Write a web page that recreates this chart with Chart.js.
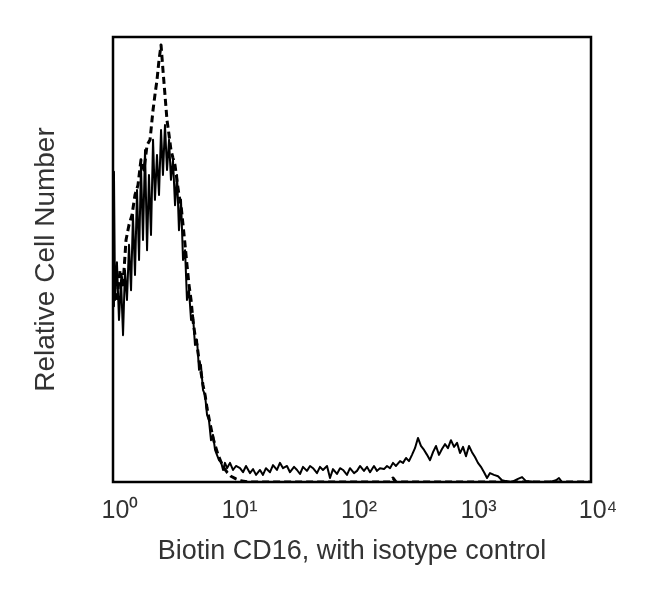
<!DOCTYPE html>
<html>
<head>
<meta charset="utf-8">
<script src="https://cdn.jsdelivr.net/npm/chart.js@4.4.1/dist/chart.umd.min.js"></script>
<style>
  html, body { margin: 0; padding: 0; background: #fff; }
  #wrap { width: 650px; height: 605px; }
</style>
</head>
<body>
<div id="wrap"><canvas id="c" width="650" height="605"></canvas></div>
<script>
// x values are log10 of fluorescence intensity (axis spans 10^0 .. 10^4)
const tickLabels = ['10\u2070', '10\u00B9', '10\u00B2', '10\u00B3', '10\u2074'];
const xTitle = 'Biotin CD16, with isotype control';
const yTitle = 'Relative Cell Number';

// Biotin CD16 (solid)
const cd16X = [0.000,0.008,0.017,0.033,0.050,0.067,0.084,0.100,0.117,0.134,0.151,0.167,0.184,0.201,0.218,0.234,0.251,0.268,0.285,0.301,0.318,0.335,0.351,0.368,0.385,0.402,0.418,0.435,0.452,0.469,0.485,0.502,0.519,0.536,0.552,0.569,0.586,0.603,0.619,0.636,0.653,0.669,0.686,0.703,0.720,0.736,0.753,0.770,0.787,0.803,0.820,0.837,0.854,0.870,0.887,0.904,0.921,0.937,0.954,0.979,1.004,1.029,1.063,1.088,1.113,1.146,1.172,1.197,1.230,1.255,1.280,1.314,1.339,1.372,1.397,1.423,1.456,1.481,1.515,1.540,1.565,1.590,1.623,1.649,1.674,1.707,1.732,1.757,1.791,1.816,1.841,1.874,1.900,1.925,1.958,1.983,2.017,2.042,2.067,2.100,2.126,2.151,2.184,2.209,2.234,2.268,2.293,2.318,2.343,2.368,2.402,2.427,2.452,2.477,2.502,2.527,2.552,2.577,2.603,2.628,2.653,2.678,2.703,2.728,2.753,2.778,2.803,2.828,2.854,2.879,2.904,2.929,2.954,2.979,3.004,3.029,3.054,3.079,3.105,3.130,3.155,3.188,3.222,3.255,3.289,3.339,3.389,3.423,3.456,3.531,3.657,3.707,3.732,3.757,3.992];
const cd16Y = [39.5,69.7,40.9,49.4,36.4,45.4,33.0,47.6,40.9,53.3,43.1,60.0,46.5,65.6,49.9,71.2,54.4,74.6,52.1,69.0,55.5,76.9,63.4,73.5,64.5,79.1,69.0,80.2,70.1,76.9,67.9,72.4,62.2,69.0,56.6,63.4,49.9,52.1,40.9,43.1,36.4,37.5,30.8,31.9,25.2,26.3,20.7,19.6,15.1,13.9,9.4,10.6,7.2,6.1,4.9,4.5,2.7,4.3,3.1,4.3,2.7,3.6,3.1,2.2,3.6,2.0,2.9,1.6,2.7,1.6,3.1,2.2,3.8,2.7,4.3,3.1,3.6,2.2,3.4,2.7,1.8,3.4,2.5,3.6,3.1,2.0,3.4,2.7,3.6,0.9,2.9,1.8,3.1,2.7,1.6,3.1,2.0,2.5,3.6,2.5,3.4,2.2,3.6,2.5,3.1,2.9,3.6,3.1,4.3,3.6,4.7,4.3,5.4,4.7,6.1,7.6,9.9,8.1,7.2,6.1,4.9,6.7,8.1,6.1,7.4,8.5,7.6,9.4,7.9,8.8,6.5,7.9,5.8,8.1,6.7,5.6,4.3,3.4,2.2,0.9,2.0,1.6,1.3,0.4,0.2,0.0,0.7,1.1,0.2,0.0,0.0,0.4,0.9,0.0,0.0];

// Isotype control (dashed)
const isoX = [0.033,0.059,0.084,0.109,0.134,0.159,0.184,0.209,0.234,0.259,0.285,0.310,0.335,0.351,0.368,0.385,0.402,0.418,0.435,0.452,0.469,0.485,0.502,0.519,0.536,0.552,0.569,0.586,0.603,0.619,0.636,0.653,0.669,0.686,0.703,0.720,0.736,0.753,0.770,0.787,0.803,0.820,0.837,0.854,0.879,0.904,0.929,0.954,0.987,1.029,1.079,1.146,2.318,2.343,2.368,3.992];
const isoY = [40.9,47.6,44.3,54.4,57.8,60.0,64.5,66.7,72.4,70.1,75.7,76.9,83.6,87.0,90.3,94.8,98.2,92.6,87.0,81.3,78.0,74.6,72.8,71.2,67.6,64.5,62.2,57.8,53.3,48.8,44.3,40.9,36.4,33.0,30.8,27.4,24.7,21.8,19.6,16.6,14.4,12.1,9.9,8.3,6.1,4.5,3.1,2.2,1.3,0.7,0.2,0.0,0.0,0.9,0.0,0.0];

const toPts = (xs, ys) => xs.map((x, i) => ({ x: x, y: ys[i] }));

const frame = {
  id: 'frame',
  afterDatasetsDraw(chart) {
    const a = chart.chartArea, ctx = chart.ctx;
    ctx.save();
    ctx.strokeStyle = '#000';
    ctx.lineWidth = 2.5;
    ctx.strokeRect(a.left, a.top, a.right - a.left, a.bottom - a.top);
    ctx.restore();
  }
};

const textColor = '#333';
const fam = '"Liberation Sans", Arial, Helvetica, sans-serif';

new Chart(document.getElementById('c'), {
  type: 'line',
  data: {
    datasets: [
      { label: 'Biotin CD16', data: toPts(cd16X, cd16Y), borderColor: '#000', borderWidth: 2, borderJoinStyle: 'round', pointRadius: 0, tension: 0, fill: false },
      { label: 'Isotype control', data: toPts(isoX, isoY), borderColor: '#000', borderWidth: 3, borderJoinStyle: 'round', borderDash: [7, 4], pointRadius: 0, tension: 0, fill: false }
    ]
  },
  options: {
    responsive: false,
    animation: false,
    layout: { padding: { left: 0, right: 59, top: 37, bottom: 0 } },
    plugins: { legend: { display: false }, tooltip: { enabled: false } },
    scales: {
      x: {
        type: 'linear', min: 0, max: 4,
        grid: { display: false, drawTicks: false },
        border: { display: false },
        afterFit(s) { s.height = 123; },
        afterBuildTicks(s) { s.ticks = [0, 1, 2, 3, 4].map(v => ({ value: v })); },
        ticks: {
          padding: 14, labelOffset: 7, maxRotation: 0, autoSkip: false,
          color: textColor, font: { family: fam, size: 25 },
          callback: (v) => tickLabels[Math.round(v)]
        },
        title: { display: true, text: xTitle, color: textColor, font: { family: fam, size: 27 }, padding: { top: 0, bottom: 37 } }
      },
      y: {
        min: 0, max: 100,
        grid: { display: false, drawTicks: false },
        border: { display: false },
        afterFit(s) { s.width = 113; },
        ticks: { display: false },
        title: { display: true, text: yTitle, color: textColor, font: { family: fam, size: 28 }, padding: { top: 29, bottom: 0 } }
      }
    }
  },
  plugins: [frame]
});
</script>
</body>
</html>
